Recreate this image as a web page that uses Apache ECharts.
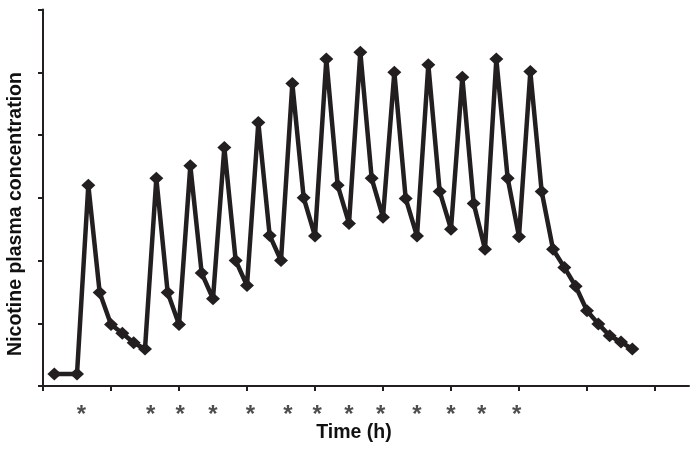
<!DOCTYPE html>
<html>
<head>
<meta charset="utf-8">
<script src="https://cdn.jsdelivr.net/npm/echarts@6/dist/echarts.min.js"></script>
<style>
html,body{margin:0;padding:0;background:#fff;}
#chart{width:697px;height:453px;}
</style>
</head>
<body>
<div id="chart"></div>
<script>
// Time in minutes
var timeMin = [10,30,40,50,60,70,80,90,100,110,120,130,140,150,160,170,180,190,200,210,220,230,240,250,260,270,280,290,300,310,320,330,340,350,360,370,380,390,400,410,420,430,440,450,460,470,480,490,500,510,520];
// Nicotine plasma concentration (arbitrary units)
var concentration = [0.19,0.19,3.20,1.49,0.98,0.84,0.69,0.59,3.31,1.49,0.98,3.51,1.80,1.39,3.80,2.00,1.60,4.20,2.40,2.00,4.82,3.00,2.39,5.21,3.20,2.59,5.32,3.31,2.69,5.00,2.99,2.39,5.12,3.10,2.50,4.92,2.91,2.18,5.21,3.31,2.38,5.01,3.10,2.18,1.89,1.59,1.20,0.99,0.80,0.70,0.59];
// Cigarette puff markers (asterisks), minutes
var puffTimes = [34,95,121,150,183,216,242,270,298,330,360,387,418];
// Axis ticks
var xTicks = [0,60,120,180,240,300,360,420,480,540];
var xMax = 570;
var yMax = 6;

var C = '#231f20';
var chart = echarts.init(document.getElementById('chart'));
var lineData = timeMin.map(function(t,i){return [t, concentration[i]];});
var puffData = puffTimes.map(function(t){return [t, -0.38];});

chart.setOption({
  animation: false,
  grid: {left: 43, right: 8, top: 9.5, bottom: 67, containLabel: false},
  xAxis: {
    type: 'value', min: 0, max: xMax, interval: 60,
    axisLine: {show: true, lineStyle: {color: C, width: 2}},
    axisTick: {show: true, length: 5, lineStyle: {color: C, width: 2}, customValues: xTicks},
    axisLabel: {show: false},
    splitLine: {show: false}
  },
  yAxis: {
    type: 'value', min: 0, max: yMax, interval: 1,
    axisLine: {show: true, lineStyle: {color: C, width: 2}},
    axisTick: {show: true, length: 5, lineStyle: {color: C, width: 2}},
    axisLabel: {show: false},
    splitLine: {show: false}
  },
  graphic: [
    {type: 'text', x: 16, y: 214, rotation: Math.PI/2,
     style: {text: 'Nicotine plasma concentration', fill: '#111', font: 'bold 19.5px "Liberation Sans", Arial, sans-serif', align: 'center', verticalAlign: 'middle'}},
    {type: 'text', x: 354, y: 433,
     style: {text: 'Time (h)', fill: '#111', font: 'bold 19.5px "Liberation Sans", Arial, sans-serif', align: 'center', verticalAlign: 'middle'}}
  ],
  series: [
    {
      type: 'line', data: lineData,
      symbol: 'diamond', symbolSize: [14, 13], showAllSymbol: true,
      lineStyle: {color: C, width: 4.5, join: 'round'},
      itemStyle: {color: C},
      z: 3
    },
    {
      type: 'scatter', data: puffData, clip: false,
      symbol: 'circle', symbolSize: 0,
      label: {show: true, position: 'inside', formatter: '*', color: C, fontSize: 24, fontWeight: 'bold', fontFamily: '"Liberation Sans", Arial, sans-serif', offset: [0, 6]},
      silent: true
    }
  ]
});
</script>
</body>
</html>
